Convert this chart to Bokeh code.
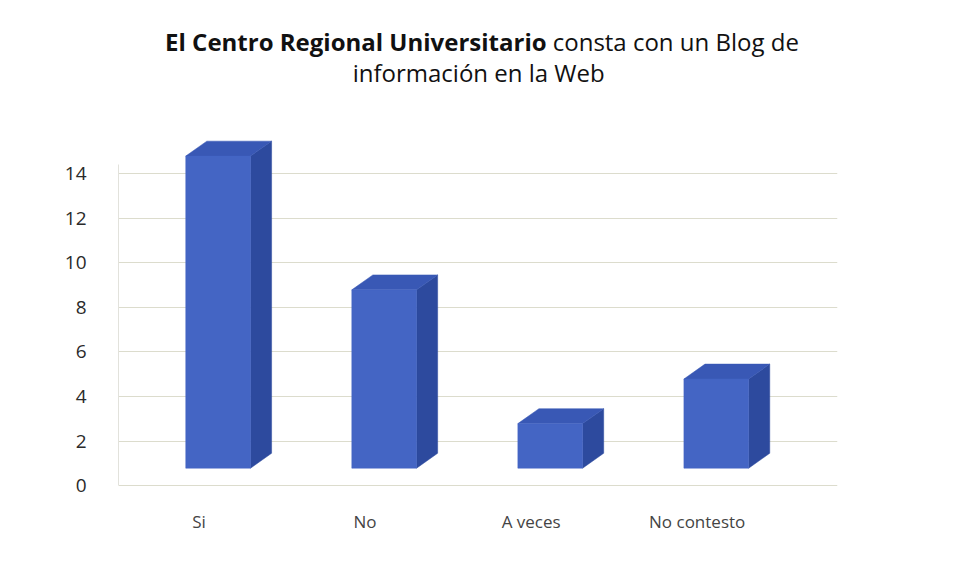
from bokeh.plotting import figure
from bokeh.models import Range1d, FixedTicker, Label
from bokeh.embed import file_html
from bokeh.resources import INLINE

# ---- data ----
categories = ["Si", "No", "A veces", "No contesto"]
values = [14, 8, 2, 4]
y_ticks = [0, 2, 4, 6, 8, 10, 12, 14]
title_bold = "El Centro Regional Universitario"
title_rest = "consta con un Blog de"
title_line2 = "información en la Web"

# ---- style constants (3D look) ----
BAR_SHIFT = 0.115      # bars sit slightly right of their labels (perspective)
HALF_W = 0.195         # half width of front face
BASE = 0.78            # front face lifted (perspective)
DX, DY = 0.127, 0.67   # depth offset
FRONT = "#4465c4"
SIDE = "#2d4a9e"
TOP = "#3958b5"
FONT = "Open Sans"

W, H = 938, 553
p = figure(width=W, height=H, output_backend="svg", toolbar_location=None,
           x_range=Range1d(-0.485, 3.845), y_range=Range1d(-0.31, 21.40),
           min_border_left=118, min_border_right=101,
           min_border_top=8, min_border_bottom=61)
p.outline_line_color = None
p.background_fill_color = "white"
p.border_fill_color = "white"

# axes
p.yaxis.ticker = FixedTicker(ticks=y_ticks)
p.yaxis.bounds = (0, 14.4)
p.yaxis.axis_line_color = "#e2e2dc"
p.yaxis.major_tick_line_color = None
p.yaxis.minor_tick_line_color = None
p.yaxis.major_label_standoff = 26
p.yaxis.major_label_text_font = FONT
p.yaxis.major_label_text_font_size = "19px"
p.yaxis.major_label_text_color = "#2a2a2a"

idx = list(range(len(categories)))
p.xaxis.ticker = FixedTicker(ticks=idx)
p.xaxis.major_label_overrides = {i: c for i, c in zip(idx, categories)}
p.xaxis.axis_line_color = None
p.xaxis.major_tick_line_color = None
p.xaxis.minor_tick_line_color = None
p.xaxis.major_label_standoff = 11
p.xaxis.major_label_text_font = FONT
p.xaxis.major_label_text_font_size = "17px"
p.xaxis.major_label_text_color = "#444444"

p.xgrid.grid_line_color = None
p.ygrid.grid_line_color = "#dcdccd"
p.ygrid.grid_line_width = 1.2

# bars
cx = [i + BAR_SHIFT for i in idx]
left = [c - HALF_W for c in cx]
right = [c + HALF_W for c in cx]
bottom = [BASE for _ in values]
top = [v + BASE for v in values]

side_xs = [[r, r, r + DX, r + DX] for r in right]
side_ys = [[b, t, t + DY, b + DY] for b, t in zip(bottom, top)]
top_xs = [[l, l + DX, r + DX, r] for l, r in zip(left, right)]
top_ys = [[t, t + DY, t + DY, t] for t in top]

p.patches(side_xs, side_ys, fill_color=SIDE, line_color=SIDE, line_width=0.5)
p.patches(top_xs, top_ys, fill_color=TOP, line_color=TOP, line_width=0.5)
p.quad(left=left, right=right, bottom=bottom, top=top,
       fill_color=FRONT, line_color=FRONT, line_width=0.5)

# title (bold + regular on first line)
common = dict(text_font=FONT, text_font_size="24px", text_color="#111111",
              text_baseline="alphabetic")
p.add_layout(Label(x=2.093, y=19.93, text=title_bold, text_align="right",
                   text_font_style="bold", **common))
p.add_layout(Label(x=2.130, y=19.93, text=title_rest, text_align="left",
                   **common))
p.add_layout(Label(x=1.684, y=18.53, text=title_line2, text_align="center",
                   **common))

open("out.html", "w").write(file_html(p, INLINE))
